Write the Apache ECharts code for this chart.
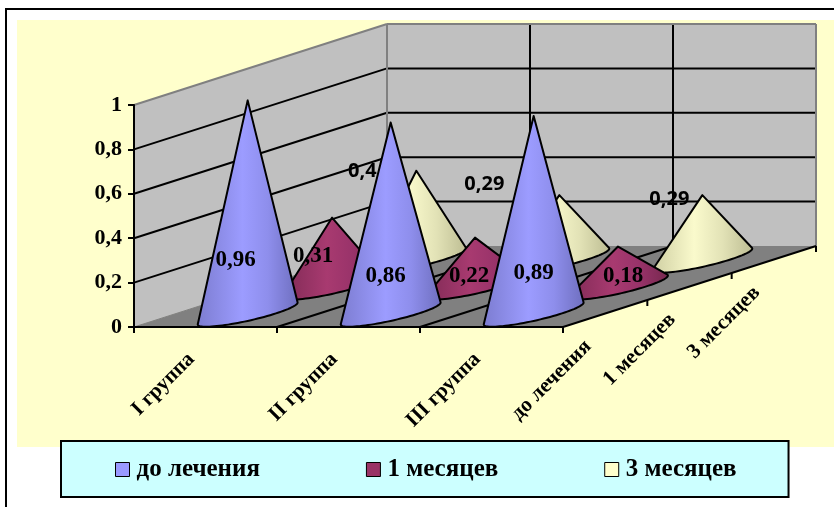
<!DOCTYPE html>
<html>
<head>
<meta charset="utf-8">
<style>html,body{margin:0;padding:0;background:#fff;overflow:hidden}#chart{width:834px;height:507px}</style>
<script src="https://cdn.jsdelivr.net/npm/echarts@6/dist/echarts.min.js"></script>
</head>
<body>
<div id="chart"></div>
<script>
// Group and period names
const groups = ['I группа', 'II группа', 'III группа'];
const periods = ['до лечения', '1 месяцев', '3 месяцев'];

// Values per period, one for each group
const beforeTreatment = [0.96, 0.86, 0.89];
const oneMonth = [0.31, 0.22, 0.18];
const threeMonths = [0.4, 0.29, 0.29];

const valueTicks = [0, 0.2, 0.4, 0.6, 0.8, 1];

// Hand-placed value labels, offset from each cone's base centre
const beforeLabelShift = [[-12, -53], [-5, -37], [0, -40]];
const oneMonthLabelShift = [[-19, -30], [-6, -10], [5, -10]];
const threeMonthLabelShift = [[-54, -88], [-75, -75], [-33, -60]];

// Oblique projection: screen offset across the whole depth of the floor
const DEPTH = [253, -81];
// Cone base radii as a share of one category slot and one depth slot
const BASE_U = 0.196;
const BASE_V = 0.49;

const FONT = '"Liberation Serif", serif';
const WALL = '#C0C0C0', EDGE = '#808080';

const cross = (a, b) => a[0] * b[1] - a[1] * b[0];
const along = (f) => [DEPTH[0] * f, DEPTH[1] * f];

function line(x1, y1, x2, y2, stroke, lineWidth) {
  return { type: 'line', shape: { x1, y1, x2, y2 }, style: { stroke, lineWidth }, silent: true };
}

// Walls, floor, grid lines and the depth axis
function renderRoom(params, api) {
  const cs = params.coordSys;
  const n = groups.length, m = periods.length;
  const left = cs.x, right = cs.x + cs.width, bottom = cs.y + cs.height, top = cs.y;
  const [dx, dy] = DEPTH;
  const children = [];
  const poly = (points, fill) => children.push({ type: 'polygon', shape: { points }, style: { fill }, silent: true });

  poly([[left, bottom], [left + dx, bottom + dy], [left + dx, top + dy], [left, top]], WALL);
  poly([[left + dx, bottom + dy], [right + dx, bottom + dy], [right + dx, top + dy], [left + dx, top + dy]], WALL);
  poly([[left, bottom], [right, bottom], [right + dx, bottom + dy], [left + dx, bottom + dy]], EDGE);

  // Value grid lines run along the side wall and across the back wall
  valueTicks.forEach((t) => {
    if (t === 0 || t === 1) return;
    const y = api.coord([0, t])[1];
    children.push(line(left, y, left + dx, y + dy, '#000', 2));
    children.push(line(left + dx, y + dy, right + dx, y + dy, '#000', 2));
  });
  // Category grid lines run over the floor and up the back wall
  for (let i = 1; i < n; i++) {
    const x = left + cs.width * i / n;
    children.push(line(x, bottom, x + dx, bottom + dy, '#000', 2));
    children.push(line(x + dx, bottom + dy, x + dx, top + dy, '#000', 2));
  }
  // Wall outline
  children.push(line(left, top, left + dx, top + dy, EDGE, 2));
  children.push(line(left + dx, top + dy, right + dx, top + dy, EDGE, 2));
  children.push(line(left + dx, top + dy, left + dx, bottom + dy, EDGE, 2));
  children.push(line(right + dx, top + dy, right + dx, bottom + dy, EDGE, 2));
  children.push(line(left, bottom, left + dx, bottom + dy, EDGE, 1));
  // Depth axis with its ticks and names
  children.push(line(right, bottom, right + dx, bottom + dy, '#000', 2));
  for (let j = 0; j <= m; j++) {
    const [ox, oy] = along(j / m);
    children.push(line(right + ox, bottom + oy, right + ox, bottom + oy + 6, '#000', 2));
  }
  periods.forEach((name, j) => {
    const [ox, oy] = along((j + 0.5) / m);
    children.push({
      type: 'text', x: right + ox - 17, y: bottom + oy + 30, rotation: Math.PI / 4, silent: true,
      style: { text: name, fill: '#000', font: 'bold 21px ' + FONT, align: 'right', verticalAlign: 'middle' }
    });
  });
  return { type: 'group', children };
}

// One cone per data row, standing in its depth slot
function coneRenderer(depthIndex, stops, shifts, labelFont) {
  return function (params, api) {
    const cat = api.value(0), value = api.value(1);
    const base = api.coord([cat, 0]);
    const tip = api.coord([cat, value]);
    const [ox, oy] = along((depthIndex + 0.5) / periods.length);
    const c = [base[0] + ox, base[1] + oy];
    const apex = [c[0], tip[1] + oy];
    const u = [params.coordSys.width / groups.length * BASE_U, 0];
    const v = along(BASE_V / periods.length);
    // Tangent points from the apex to the sheared base ellipse
    const d = [apex[0] - c[0], apex[1] - c[1]];
    const P = cross(u, d), Q = -cross(v, d), K = cross(u, v);
    const R = Math.hypot(P, Q), phi = Math.atan2(P, Q), w = Math.acos(Math.min(1, K / R));
    const rel = (t) => {
      const a = (t + Math.PI / 2 + Math.PI) % (2 * Math.PI);
      return (a < 0 ? a + 2 * Math.PI : a) - Math.PI;
    };
    const a1 = rel(phi - w), a2 = rel(phi + w);
    const lo = Math.min(a1, a2), hi = Math.max(a1, a2);
    const points = [apex];
    for (let i = 0; i <= 48; i++) {
      const t = lo + (hi - lo) * i / 48 - Math.PI / 2;
      points.push([c[0] + u[0] * Math.cos(t) + v[0] * Math.sin(t), c[1] + u[1] * Math.cos(t) + v[1] * Math.sin(t)]);
    }
    const shift = shifts[cat];
    return {
      type: 'group',
      children: [
        {
          type: 'polygon', shape: { points },
          style: { fill: new echarts.graphic.LinearGradient(0, 0, 1, 0, stops), stroke: '#000', lineWidth: 2, lineJoin: 'round' }
        },
        {
          type: 'text', x: c[0] + shift[0], y: c[1] + shift[1], silent: true,
          style: { text: String(value).replace('.', ','), fill: '#000', font: labelFont, align: 'center', verticalAlign: 'middle' }
        }
      ]
    };
  };
}

const stop = (offset, color) => ({ offset, color });
const SERIF_LABEL = 'bold 23px ' + FONT;
const SANS_LABEL = 'bold 20px "Noto Sans", sans-serif';

const chart = echarts.init(document.getElementById('chart'), null, { renderer: 'canvas' });
chart.setOption({
  animation: false,
  backgroundColor: '#fff',
  graphic: [
    { type: 'rect', z: -10, shape: { x: 6, y: 9, width: 900, height: 600 }, style: { fill: '#fff', stroke: '#000', lineWidth: 2 }, silent: true },
    { type: 'rect', z: -9, shape: { x: 17, y: 20, width: 817, height: 427 }, style: { fill: '#FFFFCC' }, silent: true }
  ],
  grid: { left: 134, top: 105, width: 429, height: 222, containLabel: false },
  xAxis: {
    type: 'category', data: groups, z: 3,
    axisLine: { lineStyle: { color: '#000', width: 2 } },
    axisTick: { show: true, length: 6, lineStyle: { color: '#000', width: 2 } },
    axisLabel: { interval: 0, rotate: 45, margin: 15, padding: [0, 20, 0, 0], color: '#000', fontFamily: FONT, fontWeight: 'bold', fontSize: 21 }
  },
  yAxis: {
    type: 'value', min: 0, max: 1, interval: 0.2, z: 3,
    axisLine: { show: true, lineStyle: { color: '#000', width: 2 } },
    axisTick: { show: true, length: 6, lineStyle: { color: '#000', width: 2 } },
    splitLine: { show: false },
    axisLabel: { margin: 12, color: '#000', fontFamily: FONT, fontWeight: 'bold', fontSize: 22, formatter: (v) => String(v).replace('.', ',') }
  },
  legend: {
    data: periods, left: 61, top: 441, orient: 'horizontal',
    icon: 'rect', itemWidth: 14, itemHeight: 14, itemGap: 106,
    padding: [16, 52, 15, 54], backgroundColor: '#CCFFFF', borderColor: '#000', borderWidth: 2,
    itemStyle: { borderColor: '#000', borderWidth: 1 },
    selectedMode: false,
    textStyle: { color: '#000', fontFamily: FONT, fontWeight: 'bold', fontSize: 25, padding: [0, 0, 0, 2] }
  },
  series: [
    {
      type: 'custom', name: 'room', z: 1, silent: true, clip: false,
      data: [[0, 0]], encode: { x: 0, y: 1 }, renderItem: renderRoom
    },
    {
      type: 'custom', name: periods[2], z: 4, clip: false, itemStyle: { color: '#FFFFCC' },
      data: threeMonths.map((v, i) => [i, v]), encode: { x: 0, y: 1 },
      renderItem: coneRenderer(2, [stop(0, '#CECEA2'), stop(0.42, '#FAFACC'), stop(0.7, '#E2E2B6'), stop(1, '#BCBC92')], threeMonthLabelShift, SANS_LABEL)
    },
    {
      type: 'custom', name: periods[1], z: 5, clip: false, itemStyle: { color: '#993366' },
      data: oneMonth.map((v, i) => [i, v]), encode: { x: 0, y: 1 },
      renderItem: coneRenderer(1, [stop(0, '#7E2A54'), stop(0.45, '#A83A70'), stop(0.7, '#99336A'), stop(1, '#76284E')], oneMonthLabelShift, SERIF_LABEL)
    },
    {
      type: 'custom', name: periods[0], z: 6, clip: false, itemStyle: { color: '#9999FF' },
      data: beforeTreatment.map((v, i) => [i, v]), encode: { x: 0, y: 1 },
      renderItem: coneRenderer(0, [stop(0, '#7C7CD0'), stop(0.45, '#9C9CFF'), stop(0.7, '#8E8EEC'), stop(1, '#6E6EBE')], beforeLabelShift, SERIF_LABEL)
    }
  ]
});
</script>
</body>
</html>
